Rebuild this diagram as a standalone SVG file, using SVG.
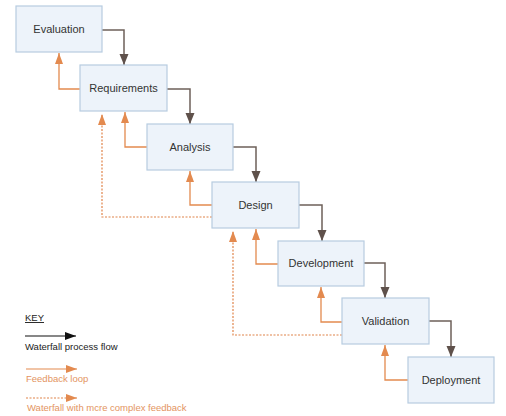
<svg xmlns="http://www.w3.org/2000/svg" width="506" height="416" viewBox="0 0 506 416">
<style>
.box{fill:#edf3fa;stroke:#b7cce0;stroke-width:1.2}
.lbl{font-family:"Liberation Sans",Arial,sans-serif;font-size:11px;fill:#333;text-anchor:middle}
.flow{fill:none;stroke:#6e605a;stroke-width:1.5}
.fb{fill:none;stroke:#e38a4f;stroke-width:1.3}
.dash{fill:none;stroke:#e0844a;stroke-width:1.2;stroke-dasharray:2 1.5}
.key{font-family:"Liberation Sans",Arial,sans-serif;font-size:9.5px}
</style>
<defs>
<marker id="ah" markerUnits="userSpaceOnUse" markerWidth="11" markerHeight="10" refX="11" refY="5" orient="auto"><path d="M0,0.5 L11,5 L0,9.5 z" fill="#5f514b"/></marker>
<marker id="ao" markerUnits="userSpaceOnUse" markerWidth="11" markerHeight="10" refX="11" refY="5" orient="auto"><path d="M0,1 L11,5 L0,9 z" fill="#e38a4f"/></marker>
<marker id="ak" markerUnits="userSpaceOnUse" markerWidth="11" markerHeight="10" refX="11" refY="5" orient="auto"><path d="M0,1 L11,5 L0,9 z" fill="#111"/></marker>
</defs>
<rect width="506" height="416" fill="#fff"/>
<g id="connectors">
<path class="flow" marker-end="url(#ah)" d="M102,30 H124 V65"/>
<path class="flow" marker-end="url(#ah)" d="M167,89 H190 V124"/>
<path class="flow" marker-end="url(#ah)" d="M233,147 H256 V182"/>
<path class="flow" marker-end="url(#ah)" d="M299,205 H322 V241"/>
<path class="flow" marker-end="url(#ah)" d="M364,263 H385 V298"/>
<path class="flow" marker-end="url(#ah)" d="M429,321 H451 V357"/>
<path class="fb" marker-end="url(#ao)" d="M80,89 H59 V53"/>
<path class="fb" marker-end="url(#ao)" d="M147,147 H125 V112"/>
<path class="fb" marker-end="url(#ao)" d="M212,205 H190 V171"/>
<path class="fb" marker-end="url(#ao)" d="M278,264 H256 V229"/>
<path class="fb" marker-end="url(#ao)" d="M342,322 H321 V287"/>
<path class="fb" marker-end="url(#ao)" d="M408,380 H385 V345"/>
<path class="dash" marker-end="url(#ao)" d="M212,217 H102 V114"/>
<path class="dash" marker-end="url(#ao)" d="M342,335 H233 V231"/>
</g>
<g id="evaluation"><rect class="box" x="16" y="6" width="86" height="46"/><text class="lbl" x="59" y="33">Evaluation</text></g>
<g id="requirements"><rect class="box" x="80" y="65" width="87" height="46"/><text class="lbl" x="123.5" y="92">Requirements</text></g>
<g id="analysis"><rect class="box" x="147" y="124" width="86" height="46"/><text class="lbl" x="190" y="151">Analysis</text></g>
<g id="design"><rect class="box" x="212" y="182" width="87" height="46"/><text class="lbl" x="255.5" y="209">Design</text></g>
<g id="development"><rect class="box" x="278" y="241" width="86" height="45"/><text class="lbl" x="321" y="267">Development</text></g>
<g id="validation"><rect class="box" x="342" y="298" width="87" height="46"/><text class="lbl" x="385.5" y="325">Validation</text></g>
<g id="deployment"><rect class="box" x="408" y="357" width="86" height="46"/><text class="lbl" x="451" y="384">Deployment</text></g>
<g id="key">
<text class="key" x="25" y="321" fill="#222" font-size="9" text-decoration="underline">KEY</text>
<line x1="25" y1="336" x2="76" y2="336" stroke="#111" stroke-width="1.2" marker-end="url(#ak)"/>
<text class="key" x="25" y="350" fill="#222">Waterfall process flow</text>
<line x1="26" y1="369" x2="77" y2="369" stroke="#e38a4f" stroke-width="1.2" marker-end="url(#ao)"/>
<text class="key" x="26" y="382" fill="#e39461">Feedback loop</text>
<line x1="26" y1="398" x2="77" y2="398" stroke="#e0844a" stroke-width="1.2" stroke-dasharray="2 1.5" marker-end="url(#ao)"/>
<text class="key" x="27" y="411" fill="#e39461">Waterfall with mcre complex feedback</text>
</g>
</svg>
